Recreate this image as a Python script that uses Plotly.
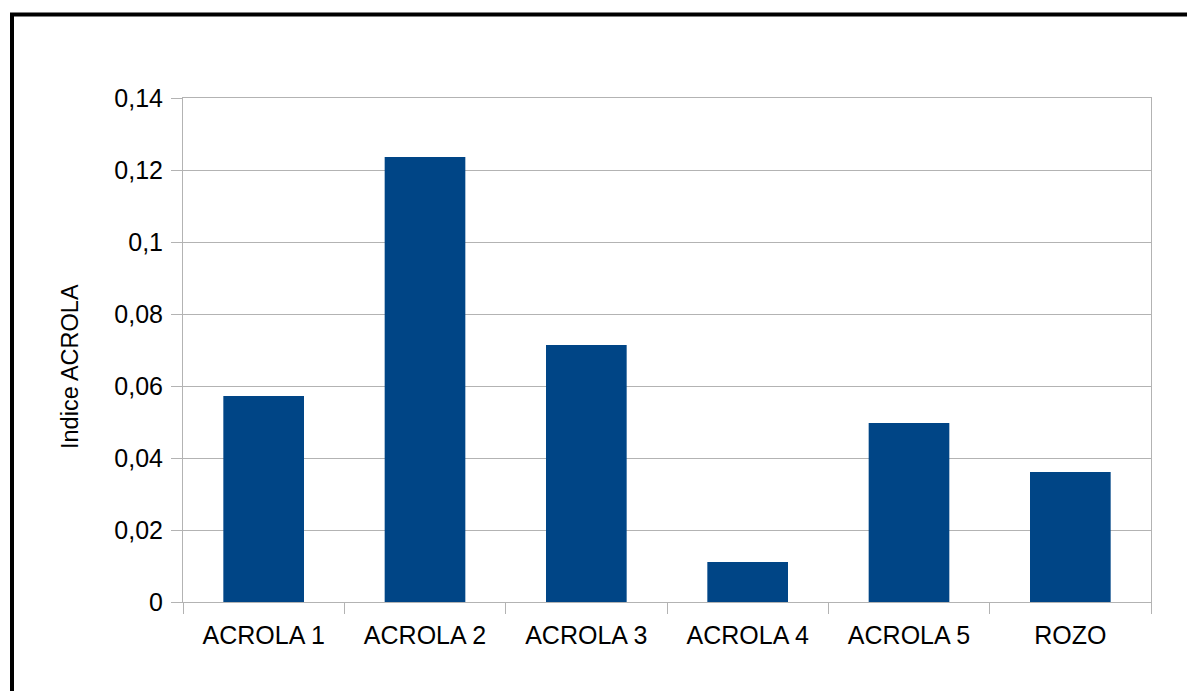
import plotly.graph_objects as go

categories = ["ACROLA 1", "ACROLA 2", "ACROLA 3", "ACROLA 4", "ACROLA 5", "ROZO"]
values = [0.0572, 0.1236, 0.0714, 0.0111, 0.0497, 0.0361]
y_tickvals = [0, 0.02, 0.04, 0.06, 0.08, 0.1, 0.12, 0.14]
y_ticktext = ["0", "0,02", "0,04", "0,06", "0,08", "0,1", "0,12", "0,14"]
y_title = "Indice ACROLA"

W, H = 1187, 691
L, R, T, B = 183, 36, 98, 89
pw, ph = W - L - R, H - T - B

def px_x(p):
    return (p - L) / pw

def px_y(p):
    return (H - B - p) / ph

grid = "#b3b3b3"
font = "Liberation Sans, Arial, sans-serif"

fig = go.Figure(go.Bar(x=categories, y=values, marker=dict(color="#004586", line=dict(width=0))))

fig.update_layout(
    width=W, height=H,
    margin=dict(l=L, r=R, t=T, b=B, pad=0),
    paper_bgcolor="white", plot_bgcolor="white",
    bargap=0.5,
    showlegend=False,
    font=dict(family=font, size=25, color="black"),
)
fig.update_xaxes(
    type="category", tickson="boundaries", ticks="outside", ticklen=11, tickwidth=1,
    tickcolor=grid, showgrid=False, showline=True, linecolor=grid, linewidth=1,
    mirror=True, tickfont=dict(size=25), ticklabelstandoff=11,
)
fig.update_yaxes(
    range=[0, 0.14], tickvals=y_tickvals, ticktext=y_ticktext,
    ticks="outside", ticklen=11, tickcolor=grid, showgrid=True, gridcolor=grid,
    gridwidth=1, showline=True, linecolor=grid, linewidth=1, mirror=True,
    zeroline=False, tickfont=dict(size=25), ticklabelstandoff=3,
)
fig.add_annotation(
    text=y_title, textangle=-90, xref="paper", yref="paper",
    x=px_x(70), y=px_y(367), xanchor="center", yanchor="middle",
    showarrow=False, font=dict(size=23.5, family=font, color="black"),
)
fig.add_shape(
    type="rect", xref="paper", yref="paper",
    x0=px_x(12), x1=px_x(W + 20), y0=px_y(H + 20), y1=px_y(14.5),
    line=dict(color="black", width=4), fillcolor="rgba(0,0,0,0)", layer="above",
)

fig.write_html("out.html")
